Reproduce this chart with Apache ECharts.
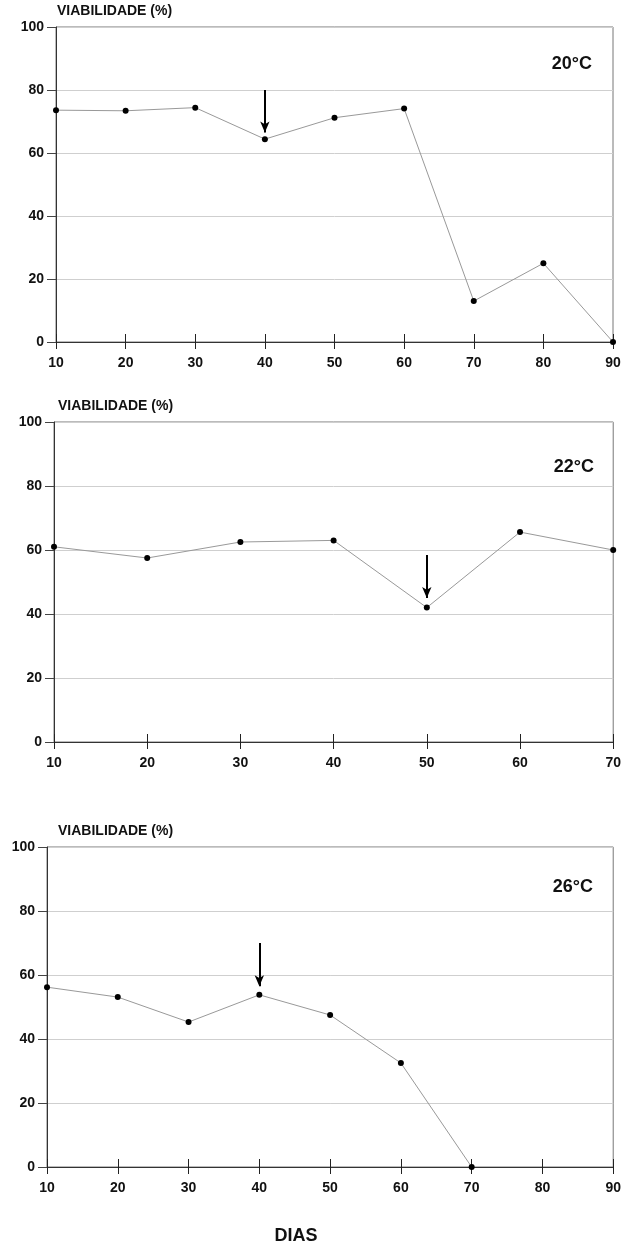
<!DOCTYPE html>
<html>
<head>
<meta charset="utf-8">
<script src="https://cdn.jsdelivr.net/npm/echarts@6/dist/echarts.min.js"></script>
<style>html,body{margin:0;padding:0;background:#fff}#c{width:624px;height:1243px}</style>
</head>
<body>
<div id="c"></div>
<script>
// ---- data ----
const yTicks = [0, 20, 40, 60, 80, 100];
const days20 = [10, 20, 30, 40, 50, 60, 70, 80, 90];
const viab20 = [73.6, 73.4, 74.4, 64.4, 71.2, 74.1, 13, 25, 0];
const days22 = [10, 20, 30, 40, 50, 60, 70];
const viab22 = [61, 57.5, 62.5, 63, 42, 65.6, 60];
const days26 = [10, 20, 30, 40, 50, 60, 70];
const viab26 = [56.2, 53.1, 45.3, 53.8, 47.5, 32.5, 0];
const temps = ['20°C', '22°C', '26°C'];
const xMax = [90, 70, 90];
// arrows: [day, from, to]
const arrow20 = [40, 80, 66.5];
const arrow22 = [50, 58.4, 45];
const arrow26 = [40, 70, 56.5];
const yTitle = 'VIABILIDADE (%)';
const xTitle = 'DIAS';

const FF = '"Liberation Sans", Arial, Helvetica, sans-serif';
const grids = [
  {left: 56, right: 11, top: 27, height: 315},
  {left: 54, right: 6, top: 422, height: 320},
  {left: 47, right: 9, top: 847, height: 320}
];
const namePad = [1, 4, 11];
const chart = echarts.init(document.getElementById('c'), null, {renderer: 'canvas'});
const xAxes = [], yAxes = [], series = [], titles = [];
const sets = [[days20, viab20, arrow20], [days22, viab22, arrow22], [days26, viab26, arrow26]];
const tempPos = [{right: 27, top: 50}, {right: 25, top: 453}, {right: 26, top: 873}];
grids.forEach((g, i) => {
  xAxes.push({
    type: 'value', gridIndex: i, min: 10, max: xMax[i], interval: 10,
    axisLine: {show: true, lineStyle: {color: '#333', width: 1}},
    axisTick: {show: true, length: 7, lineStyle: {color: '#222', width: 1}},
    axisLabel: {margin: 14, fontSize: 14, fontWeight: 'bold', color: '#111', fontFamily: FF},
    splitLine: {show: false}
  });
  xAxes.push({
    type: 'value', gridIndex: i, min: 10, max: xMax[i], interval: 10, position: 'bottom', offset: 0,
    axisLine: {show: false},
    axisTick: {show: true, inside: true, length: 8, lineStyle: {color: '#222', width: 1}},
    axisLabel: {show: false}, splitLine: {show: false}
  });
  yAxes.push({
    type: 'value', gridIndex: i, min: yTicks[0], max: yTicks[yTicks.length - 1], interval: 20,
    name: yTitle, nameLocation: 'end', nameGap: 9,
    nameTextStyle: {fontSize: 14, fontWeight: 'bold', color: '#111', fontFamily: FF, align: 'left', padding: [0, 0, 0, namePad[i]]},
    axisLine: {show: true, lineStyle: {color: '#333', width: 1}},
    axisTick: {show: true, length: 9, lineStyle: {color: '#444'}},
    axisLabel: {margin: 12, fontSize: 14, fontWeight: 'bold', color: '#111', fontFamily: FF},
    splitLine: {show: true, lineStyle: {color: '#cfcfcf', width: 1}}
  });
  const [d, v, a] = sets[i];
  series.push({
    type: 'line', xAxisIndex: i * 2, yAxisIndex: i,
    data: d.map((x, k) => [x, v[k]]),
    symbol: 'circle', symbolSize: 6,
    itemStyle: {color: '#000'},
    lineStyle: {color: '#999', width: 1},
    clip: false,
    markLine: {
      silent: true, symbol: ['none', 'arrow'], symbolSize: [7, 11],
      label: {show: false},
      lineStyle: {color: '#000', width: 2, type: 'solid'},
      data: [[{coord: [a[0], a[1]]}, {coord: [a[0], a[2]]}]]
    }
  });
  titles.push({
    text: temps[i], right: tempPos[i].right, top: tempPos[i].top,
    textStyle: {fontSize: 18, fontWeight: 'bold', color: '#111', fontFamily: FF}
  });
});
titles.push({text: xTitle, left: 291, top: 1222, textAlign: 'center',
  textStyle: {fontSize: 18, fontWeight: 'bold', color: '#111', fontFamily: FF}});

chart.setOption({
  animation: false,
  backgroundColor: '#fff',
  title: titles,
  grid: grids.map(g => Object.assign({show: true, borderColor: '#777', borderWidth: 1, backgroundColor: 'transparent'}, g)),
  xAxis: xAxes,
  yAxis: yAxes,
  series: series
});
</script>
</body>
</html>
